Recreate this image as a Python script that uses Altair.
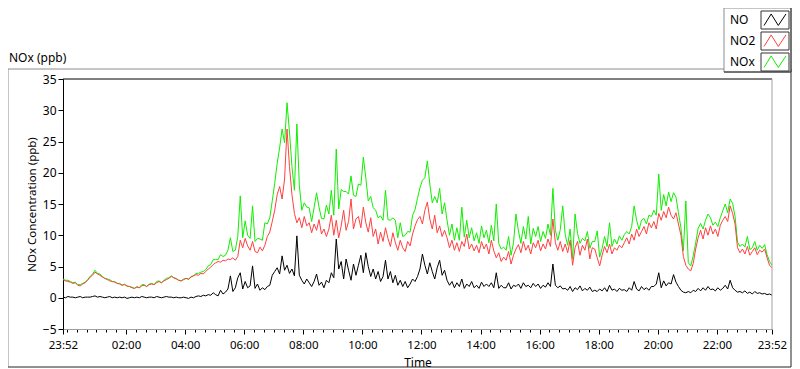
import altair as alt
import pandas as pd

# ---------------- data (5-minute readings, 23:52 -> 23:52 next day) ----------------
SERIES = ["NO", "NO2", "NOx"]
COLORS = ["#000000", "#ff4040", "#11ee00"]
START_MIN = 1432   # 23:52 of the previous day, in minutes
STEP_MIN = 5

no2 = [
    2.9, 2.7, 2.6, 2.5, 2.3, 2.4, 2.0, 1.9, 2.2, 2.4, 2.8, 3.3,
    3.6, 4.1, 3.8, 3.6, 3.3, 3.1, 2.9, 2.7, 2.6, 2.5, 2.3, 2.2,
    2.0, 2.1, 1.9, 1.8, 1.6, 1.5, 1.7, 1.6, 1.9, 2.0, 1.8, 2.1,
    2.2, 2.1, 2.4, 2.6, 2.4, 2.7, 2.9, 3.1, 3.4, 3.2, 3.0, 2.8,
    2.7, 2.9, 3.1, 3.0, 3.3, 3.5, 3.7, 3.6, 3.9, 3.8, 4.2, 4.6,
    4.9, 5.3, 5.6, 5.8, 5.7, 6.0, 5.9, 6.2, 6.1, 6.4, 6.0, 6.6,
    9.2, 8.0, 9.5, 8.3, 7.6, 9.0, 7.4, 7.2, 8.1, 7.5, 8.4, 9.8,
    10.5, 12.2, 14.0, 16.5, 17.8, 15.8, 19.0, 27.0, 21.0, 16.5, 13.5, 12.0,
    12.8, 11.2, 13.0, 11.5, 12.0, 10.4, 11.8, 10.8, 12.5, 10.2, 11.0, 9.8,
    11.0, 13.2, 10.0, 12.4, 9.6, 11.5, 14.0, 10.8, 12.2, 15.8, 11.0, 12.6,
    13.0, 11.2, 14.5, 12.0, 10.5, 12.8, 9.8, 11.0, 8.6, 10.5, 9.0, 11.2,
    9.5, 8.2, 10.4, 8.8, 7.6, 9.2, 8.0, 7.4, 9.0, 8.3, 10.2, 11.5,
    12.5, 13.0, 11.8, 14.0, 15.3, 12.6, 11.0, 13.2, 10.4, 11.5, 9.8, 10.8,
    9.6, 8.0, 9.2, 7.6, 8.8, 7.4, 9.0, 8.2, 10.2, 7.8, 8.6, 7.5,
    8.4, 7.2, 9.0, 7.8, 8.6, 7.0, 9.2, 7.5, 6.4, 7.2, 5.8, 6.5,
    6.0, 7.4, 5.4, 6.8, 7.8, 8.5, 7.2, 9.0, 7.6, 8.4, 7.0, 8.8,
    8.0, 9.2, 7.5, 8.6, 7.8, 9.4, 8.2, 12.6, 8.8, 7.6, 9.0, 7.4,
    8.6, 7.2, 9.2, 5.2, 8.0, 9.0, 6.8, 8.4, 7.6, 9.4, 6.2, 8.0,
    7.8, 6.4, 5.1, 6.8, 8.2, 7.2, 8.6, 7.0, 8.0, 7.6, 8.4, 8.0,
    8.8, 9.6, 8.6, 10.2, 9.2, 11.0, 9.8, 10.6, 11.4, 10.2, 12.0, 11.2,
    12.2, 11.0, 13.5, 12.4, 13.8, 12.8, 14.5, 13.2, 12.6, 13.6, 11.8, 10.0,
    6.6, 5.2, 4.6, 4.3, 5.5, 7.8, 9.6, 10.8, 9.4, 11.2, 10.0, 11.5,
    10.2, 11.0, 9.8, 11.6, 12.4, 13.0, 12.2, 14.7, 13.5, 11.8, 8.0, 7.2,
    7.8, 7.0, 8.2, 6.8, 7.4, 8.0, 6.9, 7.6, 7.3, 7.8, 6.4, 5.2,
    4.8,
]

no = [
    0.1, 0.0, 0.2, 0.1, 0.1, 0.0, 0.1, 0.2, 0.0, 0.1, 0.1, 0.1,
    0.2, 0.3, 0.1, 0.2, 0.1, 0.0, 0.1, 0.2, 0.0, 0.1, 0.0, 0.1,
    0.0, 0.1, -0.1, 0.0, 0.1, 0.0, 0.1, 0.0, 0.2, 0.1, 0.0, 0.1,
    0.1, 0.0, 0.2, 0.1, 0.0, 0.1, 0.2, 0.1, 0.1, 0.0, 0.1, 0.0,
    0.0, 0.1, 0.0, -0.1, 0.1, 0.0, 0.2, 0.3, 0.2, 0.4, 0.3, 0.5,
    0.4, 0.8, 0.5, 0.3, 1.2, 0.6, 0.9, 1.4, 3.5, 1.0, 1.6, 3.2,
    4.0, 1.4, 2.6, 1.6, 1.9, 5.1, 1.5, 2.2, 1.2, 1.6, 1.3, 1.8,
    2.0, 3.6, 4.2, 4.8, 3.8, 6.7, 4.4, 5.2, 3.9, 4.6, 3.5, 9.9,
    3.6, 2.8, 2.2, 3.0, 2.4, 1.8, 2.6, 3.8, 2.0, 2.5, 1.6, 2.8,
    2.4, 4.0, 3.2, 9.4, 4.6, 5.8, 3.0, 6.2, 4.4, 2.8, 5.4, 3.6,
    5.2, 6.8, 4.0, 7.2, 5.0, 3.4, 4.6, 3.0, 4.2, 2.6, 3.4, 6.0,
    3.0, 4.2, 2.4, 3.6, 2.0, 2.8, 1.8, 2.6, 1.6, 2.2, 3.0, 2.6,
    3.4, 4.6, 7.0, 5.2, 3.8, 5.6, 4.2, 3.0, 4.8, 6.0, 3.6, 4.4,
    2.8, 2.0, 2.6, 1.6, 2.4, 1.8, 3.0, 1.5, 2.2, 1.8, 2.6, 1.6,
    2.0, 1.5, 2.5, 1.8, 2.2, 1.8, 2.4, 1.6, 4.0, 1.5, 2.0, 1.6,
    1.6, 2.4, 1.4, 2.0, 1.8, 2.2, 1.5, 2.4, 1.8, 2.0, 1.6, 2.3,
    1.8, 2.2, 1.5, 2.0, 1.7, 2.4, 1.8, 5.4, 2.0, 1.6, 1.9, 1.4,
    1.5, 1.2, 1.8, 1.0, 1.6, 1.3, 1.9, 1.1, 1.5, 1.2, 1.7, 1.0,
    1.2, 1.0, 1.4, 1.1, 1.6, 1.0, 2.0, 1.2, 1.4, 1.0, 1.5, 1.2,
    1.3, 1.0, 1.6, 1.2, 2.6, 1.4, 1.1, 1.8, 1.3, 1.6, 1.2, 1.8,
    1.8, 2.2, 4.0, 1.6, 2.7, 1.9, 2.4, 2.2, 3.7, 2.5, 1.8, 1.2,
    0.9, 0.8, 1.0, 0.8, 1.2, 1.0, 1.5, 1.1, 1.6, 1.2, 1.8, 1.3,
    1.4, 1.1, 1.6, 1.2, 1.5, 2.0, 1.4, 2.8, 1.6, 1.2, 0.9, 1.0,
    0.8, 1.1, 0.7, 0.9, 0.6, 1.0, 0.7, 0.8, 0.6, 0.7, 0.5, 0.6,
    0.4,
]

nox = [
    3.0, 2.8, 2.8, 2.6, 2.4, 2.5, 2.1, 2.1, 2.3, 2.5, 2.9, 3.4,
    3.8, 4.4, 3.9, 3.8, 3.4, 3.1, 3.0, 2.9, 2.6, 2.6, 2.3, 2.3,
    2.0, 2.2, 1.8, 1.8, 1.7, 1.5, 1.8, 1.6, 2.1, 2.1, 1.8, 2.2,
    2.3, 2.1, 2.6, 2.7, 2.4, 2.8, 3.1, 3.2, 3.5, 3.2, 3.1, 2.8,
    2.7, 3.0, 3.1, 2.9, 3.4, 3.5, 3.9, 3.9, 4.1, 4.2, 4.5, 5.1,
    5.3, 6.1, 6.1, 6.1, 6.9, 6.6, 6.8, 7.6, 9.6, 7.4, 7.6, 9.8,
    16.3, 9.6, 12.3, 10.0, 9.5, 14.7, 9.0, 9.5, 9.4, 9.2, 12.0, 11.8,
    12.8, 15.5, 18.3, 21.5, 24.0, 27.0, 24.8, 31.2, 26.5, 21.0, 17.2, 27.8,
    18.0, 14.0, 15.2, 14.5, 14.4, 12.2, 14.4, 16.8, 14.5, 12.7, 12.6, 14.8,
    13.4, 17.2, 13.2, 23.8, 14.2, 17.3, 17.0, 17.0, 16.6, 19.5, 16.4, 16.2,
    18.2, 18.0, 22.5, 19.2, 15.5, 16.2, 14.4, 14.0, 12.8, 13.1, 12.4, 17.2,
    12.5, 12.4, 12.8, 12.4, 9.6, 12.0, 9.8, 10.0, 10.6, 10.5, 13.2, 14.1,
    15.9, 17.6, 18.8, 19.2, 21.9, 18.2, 15.2, 16.2, 15.2, 17.5, 13.4, 15.2,
    12.4, 10.0, 11.8, 9.2, 11.2, 9.2, 14.5, 9.7, 12.4, 9.6, 11.2, 9.1,
    10.4, 8.7, 11.5, 9.6, 10.8, 8.8, 11.6, 9.1, 15.0, 8.7, 7.8, 8.1,
    7.6, 9.8, 6.8, 8.8, 13.4, 10.7, 8.7, 11.4, 9.4, 13.0, 8.6, 11.1,
    9.8, 11.4, 9.0, 10.6, 9.5, 11.8, 10.0, 17.5, 10.8, 9.2, 10.9, 14.7,
    10.1, 8.4, 11.0, 6.2, 13.4, 10.3, 8.7, 9.5, 9.1, 10.6, 7.9, 9.0,
    9.0, 10.7, 6.5, 7.9, 9.8, 8.2, 12.0, 8.2, 9.4, 8.6, 9.9, 9.2,
    10.1, 10.6, 10.2, 11.4, 14.7, 12.4, 10.9, 12.4, 12.7, 11.8, 13.2, 13.0,
    14.0, 13.2, 19.8, 14.0, 16.5, 14.7, 16.9, 15.4, 16.8, 16.1, 13.6, 11.2,
    7.5, 15.5, 5.6, 5.1, 6.7, 8.8, 11.1, 11.9, 11.0, 12.4, 13.4, 12.8,
    11.6, 12.1, 11.4, 12.8, 13.9, 15.0, 13.6, 15.8, 15.1, 13.0, 8.9, 8.2,
    8.6, 8.1, 9.8, 7.7, 8.0, 9.0, 7.6, 8.4, 7.9, 8.5, 6.9, 5.8,
    5.2,
]

# axis ticks (minutes); labelled ticks and 20-minute minor ticks
x_major = [1432, 1560, 1680, 1800, 1920, 2040, 2160, 2280, 2400, 2520, 2640, 2760, 2872]
x_minor = list(range(1440, 2872, 20))
y_ticks = [-5, 0, 5, 10, 15, 20, 25, 30, 35]
X_DOMAIN = [1432, 2872]
Y_DOMAIN = [-5, 35]

# ---------------- layout constants ----------------
W, H = 709, 250
PAD_L, PAD_T, PAD_R, PAD_B = 55, 71, 20, 40
FONT = "Noto Sans"
GRAY = "#8c8c8c"
RIGHT = W + PAD_R - 1          # outer frame right edge (plot coords)
BOTTOM = H + PAD_B - 2         # outer frame bottom edge (plot coords)

rows = []
for name, vals in zip(SERIES, [no, no2, nox]):
    for i, v in enumerate(vals):
        rows.append({"t": START_MIN + STEP_MIN * i, "v": v, "series": name})
df = pd.DataFrame(rows)

all_ticks = sorted(set(x_major + x_minor))
major_js = "[" + ",".join(str(v) for v in x_major) + "]"
is_major = f"indexof({major_js}, datum.value) >= 0"
hh = "(floor(datum.value/60)%24)"
mm = "(datum.value%60)"
label_expr = (
    f"{is_major} ? (({hh}<10?'0':'') + {hh} + ':' + ({mm}<10?'0':'') + {mm}) : ''"
)

x_axis = alt.Axis(
    values=all_ticks,
    labelExpr=label_expr,
    tickSize={"condition": {"test": is_major, "value": 5}, "value": 3},
    tickColor="#000",
    domainColor="#a0a0a0",
    labelFlush=False,
    labelOverlap=False,
    labelPadding=5,
    labelFont=FONT,
    labelFontSize=11.5,
    labelColor="#000",
    grid=False,
    title="Time",
    titleFont=FONT,
    titleFontSize=12,
    titleFontWeight="normal",
    titleColor="#000",
    titleX=W / 2,
    titleY=33,
    titleBaseline="middle",
    titleAlign="center",
)
y_axis = alt.Axis(
    values=y_ticks,
    tickSize=5,
    tickColor="#000",
    domainColor="#000",
    labelPadding=2,
    labelFont=FONT,
    labelFontSize=12,
    labelColor="#000",
    grid=False,
    title="NOx Concentration (ppb)",
    titleFont=FONT,
    titleFontSize=11.5,
    titleFontWeight="normal",
    titleColor="#000",
    titleX=-31,
    titleY=H / 2,
    titleAngle=-90,
    titleAlign="center",
    titleBaseline="middle",
)

base = alt.Chart(df)
x_enc = alt.X("t:Q", scale=alt.Scale(domain=X_DOMAIN, nice=False, zero=False), axis=x_axis)
y_enc = alt.Y("v:Q", scale=alt.Scale(domain=Y_DOMAIN, nice=False), axis=y_axis)

line_layers = []
for name in ["NOx", "NO2", "NO"]:
    col = COLORS[SERIES.index(name)]
    line_layers.append(
        base.transform_filter(alt.datum.series == name)
        .mark_line(color=col, strokeWidth=1, clip=True)
        .encode(x=x_enc, y=y_enc)
    )

one = alt.Chart(pd.DataFrame({"k": [0]}))

def hline(x1, x2, y, color):
    return one.mark_rule(color=color, strokeWidth=1).encode(
        x=alt.value(x1), x2=alt.value(x2), y=alt.value(y))

def vline(x, y1, y2, color):
    return one.mark_rule(color=color, strokeWidth=1).encode(
        x=alt.value(x), y=alt.value(y1), y2=alt.value(y2))

LEG_L = RIGHT - 67
deco = [
    # plot frame: top black, right gray
    hline(0, W, 0, "#000"),
    vline(W, 0, H, "#a0a0a0"),
    # outer panel frame
    hline(-PAD_L, LEG_L, -10, GRAY),
    vline(-PAD_L, -10, BOTTOM, GRAY),
    vline(RIGHT, -10, BOTTOM, "#222"),
    hline(-PAD_L, RIGHT, BOTTOM, "#222"),
    # graph title
    one.mark_text(text="NOx (ppb)", font=FONT, fontSize=12, align="left",
                  baseline="middle", color="#000").encode(
        x=alt.value(-PAD_L + 1), y=alt.value(-21)),
    # legend box
    one.mark_rect(fill="#fff", stroke=GRAY, strokeWidth=1).encode(
        x=alt.value(LEG_L), x2=alt.value(RIGHT), y=alt.value(-PAD_T), y2=alt.value(-7)),
    vline(RIGHT, -PAD_T, -7, "#222"),
    hline(LEG_L, RIGHT, -7, "#222"),
]

ZIGZAG = "M-1,0.5L-0.35,-0.55L0.3,0.5L1,-0.55"
for name, col, yc in zip(SERIES, COLORS, [-59, -38, -17]):
    deco.append(one.mark_text(text=name, font=FONT, fontSize=12, align="left",
                              baseline="middle", color="#000").encode(
        x=alt.value(LEG_L + 6), y=alt.value(yc)))
    deco.append(one.mark_rect(fill="#fff", stroke="#333", strokeWidth=1).encode(
        x=alt.value(RIGHT - 30), x2=alt.value(RIGHT - 2),
        y=alt.value(yc - 9), y2=alt.value(yc + 9)))
    deco.append(one.mark_point(shape=ZIGZAG, size=480, filled=False, stroke=col,
                               strokeWidth=1, opacity=1).encode(
        x=alt.value(RIGHT - 16), y=alt.value(yc)))

chart = (
    alt.layer(*line_layers, *deco)
    .properties(
        width=W,
        height=H,
        autosize=alt.AutoSizeParams(type="none"),
        padding={"left": PAD_L, "top": PAD_T, "right": PAD_R, "bottom": PAD_B},
        background="#ffffff",
    )
    .configure_view(stroke=None)
)

chart.save("out.html", embed_options={"renderer": "svg", "actions": False})
